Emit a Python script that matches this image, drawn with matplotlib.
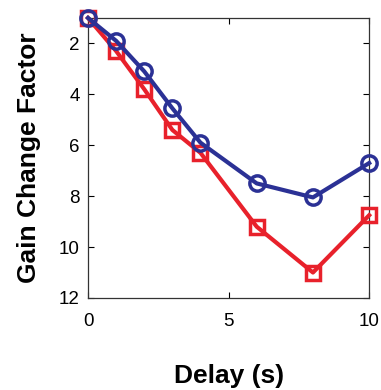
import matplotlib
matplotlib.use("Agg")
import matplotlib.pyplot as plt

# delay values (s) and gain change factors
delay = [0, 1, 2, 3, 4, 6, 8, 10]
gain_red = [1.0, 2.3, 3.8, 5.4, 6.3, 9.2, 11.0, 8.75]
gain_blue = [1.0, 1.9, 3.1, 4.55, 5.9, 7.5, 8.05, 6.7]

plt.rcParams['font.family'] = ['Liberation Sans', 'DejaVu Sans']

fig = plt.figure(figsize=(3.81, 3.90), dpi=100)
ax = fig.add_axes([0.231, 0.236, 0.738, 0.718])

ax.plot(delay, gain_red, '-s', color='#e8212b', lw=3, ms=10,
        mfc='none', mec='#e8212b', mew=2.5, clip_on=False, zorder=3)
ax.plot(delay, gain_blue, '-o', color='#2b3195', lw=3, ms=11,
        mfc='none', mec='#2b3195', mew=2.5, clip_on=False, zorder=4)

ax.set_xlim(0, 10)
ax.set_ylim(12, 1)
ax.set_xticks([0, 5, 10])
ax.set_yticks([2, 4, 6, 8, 10, 12])
ax.tick_params(direction='in', top=True, right=True, labelsize=13.5,
               length=4, width=0.8)
ax.tick_params(axis='x', pad=11)
ax.tick_params(axis='y', pad=6)
for s in ax.spines.values():
    s.set_linewidth(0.9)
    s.set_color('#333333')

ax.set_xlabel('Delay (s)', fontsize=19, fontweight='bold', labelpad=24)
ax.set_ylabel('Gain Change Factor', fontsize=19, fontweight='bold', labelpad=13)

fig.savefig('out.png', dpi=100)
